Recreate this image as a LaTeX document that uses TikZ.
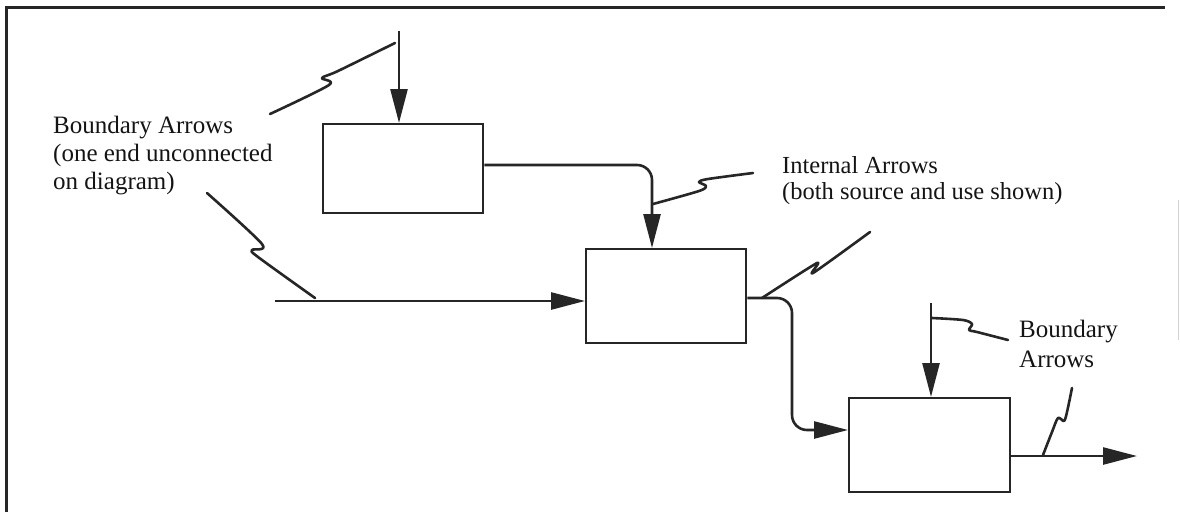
\documentclass[tikz,border=0pt]{standalone}
\usepackage{fontspec}
\setmainfont{Liberation Serif}
\usetikzlibrary{arrows.meta}
\begin{document}
\begin{tikzpicture}[x=1pt,y=-1pt,
  box/.style={draw=black!85, line width=2.4pt, inner sep=0pt, anchor=north west},
  conn/.style={draw=black!85, line width=2.6pt, -{Triangle[length=34pt,width=17pt]}},
  lead/.style={draw=black!85, line width=2.6pt, line cap=round, line join=round},
  lbl/.style={font=\fontsize{25}{28}\selectfont, anchor=base west, inner sep=0pt, text=black!92},
  ilbl/.style={lbl, font=\fontsize{24.5}{26}\selectfont},
]
\useasboundingbox (0,0) rectangle (1180,512);
% frame
\draw[line width=3pt, black!85] (6,512) -- (6,7) -- (1165,7);
\draw[gray!35, line width=1pt] (1178.5,200) -- (1178.5,340);

% boxes
\node[box, minimum width=160pt, minimum height=89pt] (A) at (322,123) {};
\node[box, minimum width=160pt, minimum height=94pt] (B) at (585,248) {};
\node[box, minimum width=161pt, minimum height=94pt] (C) at (848,397) {};

% connectors
\coordinate (tA) at (399,31);
\draw[conn] (tA) -- (tA |- A.north);
\draw[conn, rounded corners=15pt] (A.east |- 0,165) -| (B.north -| 652,0);
\coordinate (bL) at (275,301);
\draw[conn] (bL) -- (bL -| B.west);
\draw[conn, rounded corners=15pt] (B.east |- 0,298) -- (792,298) -- (792,430) -- (C.west |- 0,430);
\coordinate (tC) at (931,303);
\draw[conn] (tC) -- (tC |- C.north);
\coordinate (oC) at (1137,456);
\draw[conn] (C.east |- oC) -- (oC);

% leader squiggles
\draw[lead] plot[smooth, tension=0.5] coordinates {(270,114) (329,85) (322,78) (338,71) (395,43)};
\draw[lead] plot[smooth, tension=0.5] coordinates {(207,193) (262,244) (252,250) (258,257) (315,298)};
\draw[lead] plot[smooth, tension=0.5] coordinates {(653,204) (699,191) (706,186) (699,182) (708,179) (753,173)};
\draw[lead] plot[smooth, tension=0.4] coordinates {(762,298) (817,263) (813,273) (870,232)};
\draw[lead] plot[smooth, tension=0.5] coordinates {(932,318) (963,320) (972,324) (969,330) (977,332) (1008,340)};
\draw[lead] plot[smooth, tension=0.5] coordinates {(1043,455) (1052,432) (1058,418) (1064,421) (1067,412) (1072,388)};

% labels
\node[lbl] (bl1) at (53,133) {Boundary Arrows};
\node[lbl] (bl2) at (53,161) {(one end unconnected};
\node[lbl] (bl3) at (53,189) {on diagram)};
\node[ilbl] (il1) at (782,173) {Internal Arrows};
\node[ilbl] (il2) at (782,199) {(both source and use shown)};
\node[lbl] (br1) at (1019,337) {Boundary};
\node[lbl] (br2) at (1019,367) {Arrows};
\end{tikzpicture}
\end{document}
